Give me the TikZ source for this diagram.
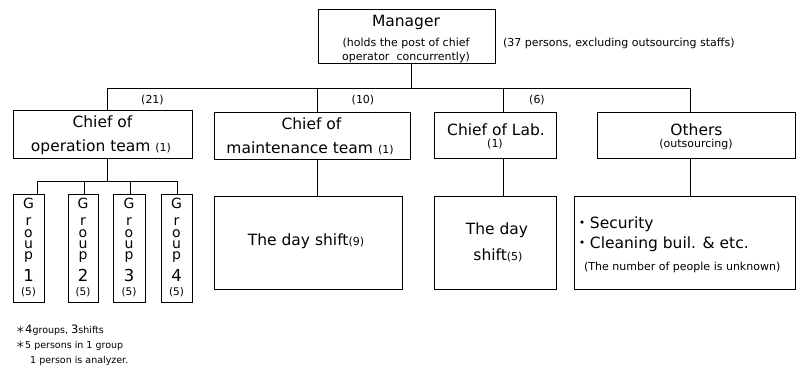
\documentclass[tikz,border=0pt]{standalone}
\usepackage{fontspec}
\setmainfont{DejaVu Sans}
\newfontfamily\jpfont{Noto Sans CJK JP}
% vertical "Group n" label, rows stacked baseline to baseline
\newcommand{\grouplabel}[1]{\vbox{\offinterlineskip\halign{\hfil##\hfil\cr
  \rule{0pt}{10pt}G\cr
  \rule{0pt}{17pt}r\cr
  \rule{0pt}{12pt}o\cr
  \rule{0pt}{11pt}u\cr
  \rule{0pt}{10pt}p\cr
  \rule{0pt}{19pt}{\fontsize{16.5}{16}\selectfont #1}\cr
  \rule{0pt}{14pt}{\fontsize{10.5}{12}\selectfont (5)}\cr}}}
\begin{document}
\begin{tikzpicture}[x=1pt,y=-1pt,
  frame/.style={draw, line width=1pt, inner sep=0pt, outer sep=0pt},
  wire/.style={line width=1pt},
  big/.style={inner sep=0pt, font=\fontsize{15.5}{18}\selectfont},
  small/.style={inner sep=0pt, font=\fontsize{11}{13}\selectfont},
  note/.style={inner sep=0pt, anchor=base west, font=\fontsize{9.5}{11}\selectfont},
  grp/.style={inner sep=0pt, anchor=north, font=\fontsize{14}{14}\selectfont},
  mid/.style={anchor=base}]
\useasboundingbox (0,0) rectangle (796,367);

% boxes
\node[frame, minimum width=177pt, minimum height=54pt] (mgr) at (406.5,36) {};
\node[frame, minimum width=179pt, minimum height=48pt] (op) at (102.5,134) {};
\node[frame, minimum width=196pt, minimum height=47pt] (mt) at (312,135.5) {};
\node[frame, minimum width=122pt, minimum height=46pt] (lab) at (495,135) {};
\node[frame, minimum width=198pt, minimum height=46pt] (oth) at (696,135) {};
\node[frame, minimum width=188pt, minimum height=93pt] (mtday) at (308,242.5) {};
\node[frame, minimum width=122pt, minimum height=93pt] (labday) at (495,242.5) {};
\node[frame, minimum width=221pt, minimum height=93pt] (othday) at (684.5,242.5) {};
\node[frame, minimum width=31pt, minimum height=108pt] (g1) at (28.5,248) {};
\node[frame, minimum width=30pt, minimum height=108pt] (g2) at (83,248) {};
\node[frame, minimum width=32pt, minimum height=108pt] (g3) at (129,248) {};
\node[frame, minimum width=31pt, minimum height=108pt] (g4) at (176.5,248) {};

% connectors
\coordinate (hub) at (411,88);
\coordinate (busL) at (107,88);
\coordinate (busR) at (690,88);
\coordinate (mtx) at (317,88);
\coordinate (labx) at (503,88);
\draw[wire] (mgr.south -| hub) -- (hub);
\draw[wire] (op.north -| busL) -- (busL) -- (busR) -- (oth.north -| busR);
\draw[wire] (mtx) -- (mt.north -| mtx);
\draw[wire] (labx) -- (lab.north -| labx);
\draw[wire] (mt.south -| mtx) -- (mtday.north -| mtx);
\draw[wire] (lab.south -| labx) -- (labday.north -| labx);
\draw[wire] (oth.south -| busR) -- (othday.north -| busR);
\coordinate (sub) at (107,181);
\coordinate (s1) at (37,181);
\coordinate (s2) at (84,181);
\coordinate (s3) at (130,181);
\coordinate (s4) at (177,181);
\draw[wire] (op.south -| sub) -- (sub);
\draw[wire] (s1) -- (s4);
\foreach \i in {1,...,4} \draw[wire] (s\i) -- (g\i.north -| s\i);

% manager
\node[big, mid] (mgrA) at (406,26) {Manager};
\node[small, mid] (mgrB) at (406,46) {(holds the post of chief};
\node[small, mid] (mgrC) at (406,60) {operator\ \ concurrently)};
\node[small, anchor=base west] (total) at (503,46) {(37 persons, excluding outsourcing staffs)};

% head counts on the bus
\node[small, mid] (n21) at (152.5,103) {(21)};
\node[small, mid] (n10) at (363,103) {(10)};
\node[small, mid] (n6) at (537,103) {(6)};

% second row
\node[big, mid] (opA) at (102.5,127) {Chief of};
\node[big, mid] (opB) at (101,151) {operation team {\fontsize{11}{13}\selectfont (1)}};
\node[big, mid] (mtA) at (311.5,129) {Chief of};
\node[big, mid] (mtB) at (310,153) {maintenance team {\fontsize{11}{13}\selectfont (1)}};
\node[big, mid] (labA) at (496,135) {Chief of Lab.};
\node[small, mid] (labB) at (495,147) {(1)};
\node[big, mid] (othA) at (696.5,135) {Others};
\node[small, mid] (othB) at (696,147) {(outsourcing)};

% third row
\node[big, mid] (mtdayT) at (306,245.5) {The day shift{\fontsize{11}{13}\selectfont (9)}};
\node[big, mid] (labdayA) at (497,234.5) {The day};
\node[big, mid] (labdayB) at (498,260.5) {shift{\fontsize{11}{13}\selectfont (5)}};
\node[big, anchor=base west] (secA) at (574.25,228) {{\jpfont ・}Security};
\node[big, anchor=base west] (secB) at (574.25,248) {{\jpfont ・}Cleaning buil. \& etc.};
\node[small, anchor=base west] (secC) at (584,270) {(The number of people is unknown)};

% groups
\node[grp] (g1t) at (28.5,198) {\grouplabel{1}};
\node[grp] (g2t) at (83,198) {\grouplabel{2}};
\node[grp] (g3t) at (129,198) {\grouplabel{3}};
\node[grp] (g4t) at (176.5,198) {\grouplabel{4}};

% notes
\node[note] (noteA) at (15.5,333) {{\jpfont ＊}{\fontsize{11.5}{13}\selectfont 4}groups, {\fontsize{11.5}{13}\selectfont 3}shifts};
\node[note] (noteB) at (15.5,348) {{\jpfont ＊}5 persons in 1 group};
\node[note] (noteC) at (30,363) {1 person is analyzer.};
\end{tikzpicture}
\end{document}
